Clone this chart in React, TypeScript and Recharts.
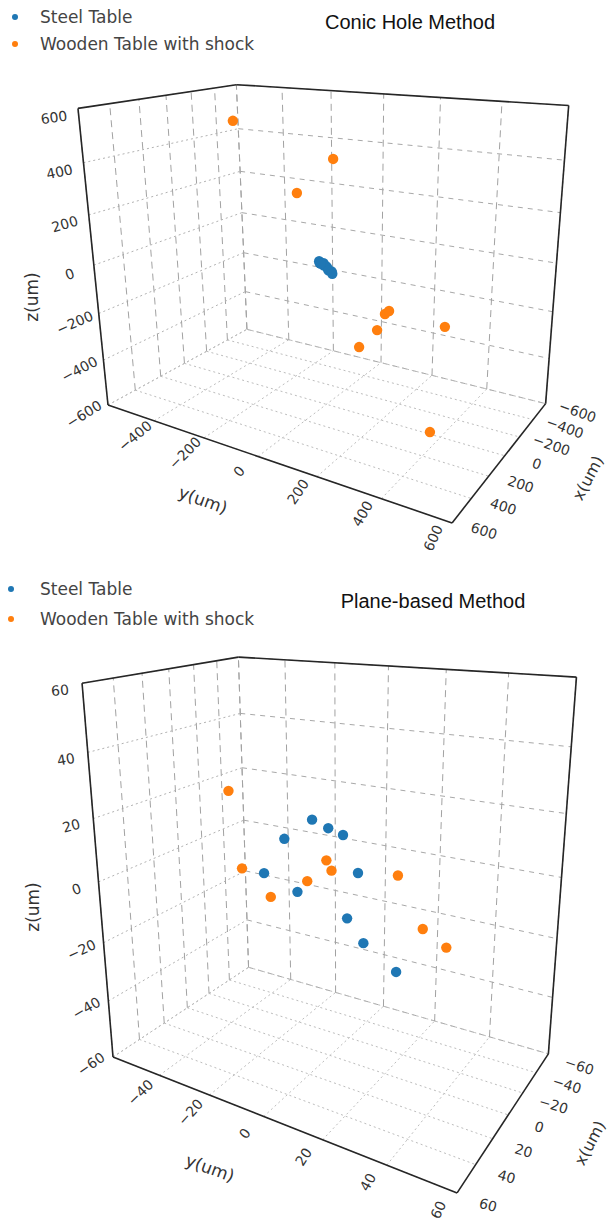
import React from 'react';
import { ScatterChart, Scatter, XAxis, YAxis, ReferenceLine } from 'recharts';

const legendNames = ['Steel Table', 'Wooden Table with shock'];
const colors = ['#1f77b4', '#ff7f0e'];

// Conic Hole Method (um)
const conicTicks = [-600, -400, -200, 0, 200, 400, 600];
const conicSteelX = [0, 10, -10, 5, -5, 0, 8, -6, 3, -3];
const conicSteelY = [-20, -14, -8, -2, 4, 10, 16, 22, 28, -16];
const conicSteelZ = [8, 4, 0, -4, -10, -14, -20, -26, -32, -2];
const conicWoodX = [0, 300, -300, 0, 300, -300, 0, 300, 300];
const conicWoodY = [-330, 147, -222, 209, 319, 83, 121, 482, 449];
const conicWoodZ = [520, 466, 200, -152, -34, -335, -312, -48, -447];

// Plane-based Method (um)
const planeTicks = [-60, -40, -20, 0, 20, 40, 60];
const planeSteelX = [0, 30, -30, -30, 30, -30, 0, 30, 0, -30];
const planeSteelY = [-6, 11, -6, -29, -11, -24, 10, 17, 12, 14];
const planeSteelZ = [18, 23, 8, 3, 6, -15, 4, -2, -18, -35];
const planeWoodX = [30, 0, 30, -30, 0, 30, 0, 30, 0];
const planeWoodY = [-23, -1, 12, 14, -8, -19, -22, 40, 39];
const planeWoodZ = [29, 6, 11, -2, -2, 6, -10, 0, -13];

type Pt = [number, number];

// perspective camera: origin corner + vanishing points of the three axes
interface View {
  title: string;
  top: number;
  height: number;
  o: Pt;
  vx: Pt;
  vy: Pt;
  vz: Pt;
  wx: number;
  wy: number;
  wz: number;
  zOff: Pt;
  yOff: Pt;
  xOff: Pt;
  zRot: Pt;
  yRot: Pt;
  xRot: Pt;
  zTitle: Pt;
  yTitle: Pt;
  xTitle: Pt;
  legendTop: number;
  legendGap: number;
  dotLeft: number;
  titleX: number;
  titleY: number;
}

const conicView: View = {
  title: 'Conic Hole Method',
  top: 0,
  height: 572,
  o: [108, 405],
  vx: [870, -10],
  vy: [-1065, 3],
  vz: [356, 2855],
  wx: 0.223,
  wy: -0.2268,
  wz: -0.108,
  zOff: [-24, 9],
  yOff: [-19, 15],
  xOff: [32, 8],
  zRot: [-32, -8],
  yRot: [-35, -65],
  xRot: [20, 18],
  zTitle: [32, 297],
  yTitle: [203, 500],
  xTitle: [588, 478],
  legendTop: 7,
  legendGap: 27,
  dotLeft: 12,
  titleX: 410,
  titleY: 23,
};

const planeView: View = {
  title: 'Plane-based Method',
  top: 572,
  height: 650,
  o: [113, 1057],
  vx: [879, 550],
  vy: [-1100, 578],
  vz: [342, 3824],
  wx: 0.215,
  wy: -0.221,
  wz: -0.119,
  zOff: [-22, 7],
  yOff: [-19, 17],
  xOff: [31, 12],
  zRot: [-35, -5],
  yRot: [-40, -65],
  xRot: [18, 15],
  zTitle: [33, 907],
  yTitle: [210, 1168],
  xTitle: [590, 1143],
  legendTop: 579,
  legendGap: 30,
  dotLeft: 8,
  titleX: 433,
  titleY: 602,
};

const project = (v: View, lim: number[], x: number, y: number, z: number) => {
  const lo = lim[0];
  const span = lim[lim.length - 1] - lo;
  const p = ((y - lo) / span) * v.wy;
  const q = ((lo + span - x) / span) * v.wx;
  const r = ((z - lo) / span) * v.wz;
  const w = 1 + p + q + r;
  return {
    sx: (v.o[0] + p * v.vy[0] + q * v.vx[0] + r * v.vz[0]) / w,
    sy: (v.o[1] + p * v.vy[1] + q * v.vx[1] + r * v.vz[1]) / w,
  };
};

const fmt = (t: number) => (t < 0 ? '\u2212' + Math.abs(t) : String(t));
const lerp = (a: Pt, i: number, n: number) => a[0] + ((a[1] - a[0]) * i) / (n - 1);

const renderDot = (color: string) => (props: any) => (
  <circle cx={props.cx} cy={props.cy} r={5.2} fill={color} />
);

const renderText = (props: any) => {
  const { cx, cy, payload } = props;
  return (
    <text
      x={cx}
      y={cy}
      transform={`rotate(${payload.rot} ${cx} ${cy})`}
      textAnchor="middle"
      dominantBaseline="central"
      fontSize={payload.size}
      fontFamily="DejaVu Sans"
      fill="#333"
    >
      {payload.text}
    </text>
  );
};

type Seg = { a: number[]; b: number[]; stroke: string; dash?: string; width: number };

function Panel({
  v,
  ticks,
  steel,
  wood,
}: {
  v: View;
  ticks: number[];
  steel: number[][];
  wood: number[][];
}) {
  const lo = ticks[0];
  const hi = ticks[ticks.length - 1];
  const n = ticks.length;

  const segs: Seg[] = [];
  const zLine = { stroke: '#a2a2a2', dash: '7 5', width: 1 };
  const leftH = { stroke: '#b2b2b2', dash: '2 3', width: 1 };
  const rightH = { stroke: '#a8a8a8', dash: '5 5', width: 1 };
  const floor = { stroke: '#bdbdbd', dash: '2 3', width: 1 };
  ticks.forEach((t) => {
    // left wall (y = lo)
    segs.push({ a: [t, lo, lo], b: [t, lo, hi], ...zLine });
    segs.push({ a: [hi, lo, t], b: [lo, lo, t], ...leftH });
    // right wall (x = lo)
    segs.push({ a: [lo, t, lo], b: [lo, t, hi], ...zLine });
    segs.push({ a: [lo, lo, t], b: [lo, hi, t], ...rightH });
    // floor (z = lo)
    segs.push({ a: [t, lo, lo], b: [t, hi, lo], ...floor });
    segs.push({ a: [hi, t, lo], b: [lo, t, lo], ...floor });
  });
  const edge = { stroke: '#262626', width: 1.6 };
  segs.push({ a: [hi, lo, hi], b: [lo, lo, hi], ...edge });
  segs.push({ a: [lo, lo, hi], b: [lo, hi, hi], ...edge });
  segs.push({ a: [hi, lo, hi], b: [hi, lo, lo], ...edge });
  segs.push({ a: [lo, hi, hi], b: [lo, hi, lo], ...edge });
  segs.push({ a: [hi, lo, lo], b: [hi, hi, lo], ...edge });
  segs.push({ a: [hi, hi, lo], b: [lo, hi, lo], ...edge });

  const toPts = (s: number[][]) =>
    s[0].map((x, i) => project(v, ticks, x, s[1][i], s[2][i]));

  const labels: any[] = [];
  ticks.forEach((t, i) => {
    const pz = project(v, ticks, hi, lo, t);
    labels.push({ sx: pz.sx + v.zOff[0], sy: pz.sy + v.zOff[1], text: fmt(t), rot: lerp(v.zRot, i, n), size: 14 });
    if (i > 0) {
      const py = project(v, ticks, hi, t, lo);
      labels.push({ sx: py.sx + v.yOff[0], sy: py.sy + v.yOff[1], text: fmt(t), rot: lerp(v.yRot, i, n), size: 14 });
    }
    const px = project(v, ticks, t, hi, lo);
    labels.push({ sx: px.sx + v.xOff[0], sy: px.sy + v.xOff[1], text: fmt(t), rot: lerp(v.xRot, i, n), size: 14 });
  });
  labels.push({ sx: v.zTitle[0], sy: v.zTitle[1], text: 'z(um)', rot: -90, size: 17 });
  labels.push({ sx: v.yTitle[0], sy: v.yTitle[1], text: 'y(um)', rot: 20, size: 17 });
  labels.push({ sx: v.xTitle[0], sy: v.xTitle[1], text: 'x(um)', rot: -62, size: 16 });

  return (
    <div style={{ position: 'absolute', left: 0, top: v.top, width: 611, height: v.height }}>
      <ScatterChart width={611} height={v.height} margin={{ top: 0, right: 0, bottom: 0, left: 0 }}>
        <XAxis type="number" dataKey="sx" domain={[0, 611]} hide />
        <YAxis type="number" dataKey="sy" domain={[v.top, v.top + v.height]} reversed hide />
        {segs.map((s, i) => {
          const p1 = project(v, ticks, s.a[0], s.a[1], s.a[2]);
          const p2 = project(v, ticks, s.b[0], s.b[1], s.b[2]);
          return (
            <ReferenceLine
              key={i}
              segment={[
                { x: p1.sx, y: p1.sy },
                { x: p2.sx, y: p2.sy },
              ]}
              stroke={s.stroke}
              strokeDasharray={s.dash}
              strokeWidth={s.width}
              ifOverflow="visible"
            />
          );
        })}
        <Scatter name={legendNames[0]} data={toPts(steel)} shape={renderDot(colors[0])} isAnimationActive={false} />
        <Scatter name={legendNames[1]} data={toPts(wood)} shape={renderDot(colors[1])} isAnimationActive={false} />
        <Scatter data={labels} shape={renderText} isAnimationActive={false} />
      </ScatterChart>
      {legendNames.map((name, i) => (
        <div
          key={name}
          style={{
            position: 'absolute',
            left: 0,
            top: v.legendTop - v.top + i * v.legendGap,
            height: 20,
            lineHeight: '20px',
            whiteSpace: 'nowrap',
            font: '17px "DejaVu Sans"',
            color: '#444',
          }}
        >
          <span
            style={{
              position: 'absolute',
              left: v.dotLeft,
              top: 7,
              width: 6,
              height: 6,
              borderRadius: 3,
              background: colors[i],
            }}
          />
          <span style={{ position: 'absolute', left: 40 }}>{name}</span>
        </div>
      ))}
      <div
        style={{
          position: 'absolute',
          left: v.titleX - 160,
          width: 320,
          top: v.titleY - v.top - 12,
          lineHeight: '24px',
          textAlign: 'center',
          font: '20px "Liberation Sans", Arial, sans-serif',
          color: '#111',
        }}
      >
        {v.title}
      </div>
    </div>
  );
}

export default function App() {
  return (
    <div style={{ position: 'absolute', left: 0, top: 0, width: 611, height: 1222, background: '#fff' }}>
      <Panel
        v={conicView}
        ticks={conicTicks}
        steel={[conicSteelX, conicSteelY, conicSteelZ]}
        wood={[conicWoodX, conicWoodY, conicWoodZ]}
      />
      <Panel
        v={planeView}
        ticks={planeTicks}
        steel={[planeSteelX, planeSteelY, planeSteelZ]}
        wood={[planeWoodX, planeWoodY, planeWoodZ]}
      />
    </div>
  );
}
